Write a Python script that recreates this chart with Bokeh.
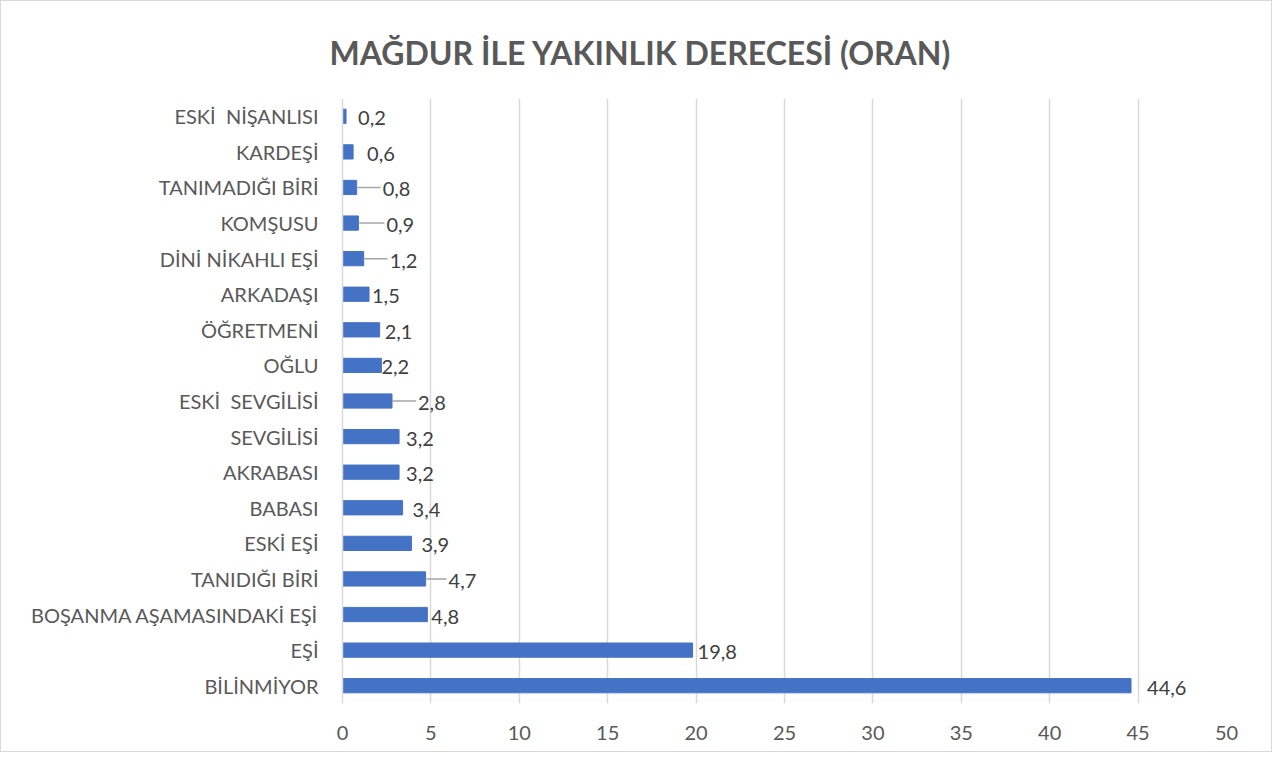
from bokeh.plotting import figure
from bokeh.models import ColumnDataSource, Title, FixedTicker
from bokeh.embed import file_html
from bokeh.resources import INLINE
from bokeh.core.properties import value

categories = ["ESKİ\u00a0 NİŞANLISI", "KARDEŞİ", "TANIMADIĞI BİRİ", "KOMŞUSU", "DİNİ NİKAHLI EŞİ",
              "ARKADAŞI", "ÖĞRETMENİ", "OĞLU", "ESKİ\u00a0 SEVGİLİSİ", "SEVGİLİSİ", "AKRABASI",
              "BABASI", "ESKİ EŞİ", "TANIDIĞI BİRİ", "BOŞANMA AŞAMASINDAKİ EŞİ", "EŞİ", "BİLİNMİYOR"]
values = [0.2, 0.6, 0.8, 0.9, 1.2, 1.5, 2.1, 2.2, 2.8, 3.2, 3.2, 3.4, 3.9, 4.7, 4.8, 19.8, 44.6]
value_labels = ["0,2", "0,6", "0,8", "0,9", "1,2", "1,5", "2,1", "2,2", "2,8", "3,2", "3,2",
                "3,4", "3,9", "4,7", "4,8", "19,8", "44,6"]
x_ticks = [0, 5, 10, 15, 20, 25, 30, 35, 40, 45, 50]
title_text = "MAĞDUR İLE YAKINLIK DERECESİ (ORAN)"

# label placement (pixels from bar end), styling only
label_offsets = [12, 14, 26, 28, 26, 3, 5, 0, 26, 7, 7, 10, 10, 23, 4, 5, 16]
PX_PER_UNIT = 884 / 50.0

FONT = "Lato"

p = figure(width=1272, height=752, y_range=list(reversed(categories)), x_range=(0, 50),
           output_backend="svg", toolbar_location=None,
           min_border_left=341, min_border_right=47, min_border_top=97, min_border_bottom=50)
p.styles = {"border": "1px solid #d9d9d9"}

src = ColumnDataSource(dict(cat=categories, val=values, lab=value_labels,
                            lx=[v + o / PX_PER_UNIT for v, o in zip(values, label_offsets)]))
p.hbar(y="cat", right="val", left=0, height=0.4, source=src, color="#4472C4")

# leader lines for labels placed further out
lead = [i for i, o in enumerate(label_offsets) if o >= 20]
p.segment(x0=[values[i] for i in lead], x1=[values[i] + (label_offsets[i] - 2) / PX_PER_UNIT for i in lead],
          y0=[categories[i] for i in lead], y1=[categories[i] for i in lead],
          line_color="#a6a6a6", line_width=1.5)

p.text(x="lx", y="cat", text="lab", source=src, text_font=value(FONT), text_font_size="20px",
       text_color="#404040", text_baseline="middle", text_align="left", y_offset=2)

p.title = Title(text=title_text, align="left", offset=-13, standoff=50, vertical_align="top",
                text_font=FONT, text_font_size="32px", text_font_style="bold",
                text_color="#595959")

p.xaxis.ticker = FixedTicker(ticks=x_ticks)
p.xaxis.axis_line_color = None
p.xaxis.major_tick_line_color = None
p.xaxis.minor_tick_line_color = None
p.xaxis.major_label_text_font = FONT
p.xaxis.major_label_text_font_size = "20px"
p.xaxis.major_label_text_color = "#595959"
p.xaxis.major_label_standoff = 16

p.yaxis.axis_line_color = "#d9d9d9"
p.yaxis.axis_line_width = 1.5
p.yaxis.major_tick_line_color = None
p.yaxis.minor_tick_line_color = None
p.yaxis.major_label_text_font = FONT
p.yaxis.major_label_text_font_size = "20px"
p.yaxis.major_label_text_color = "#595959"
p.yaxis.major_label_standoff = 18

p.xgrid.grid_line_color = "#d9d9d9"
p.xgrid.grid_line_width = 1.5
p.ygrid.grid_line_color = None
p.outline_line_color = None
p.y_range.range_padding = 0

open("out.html", "w").write(file_html(p, INLINE))
